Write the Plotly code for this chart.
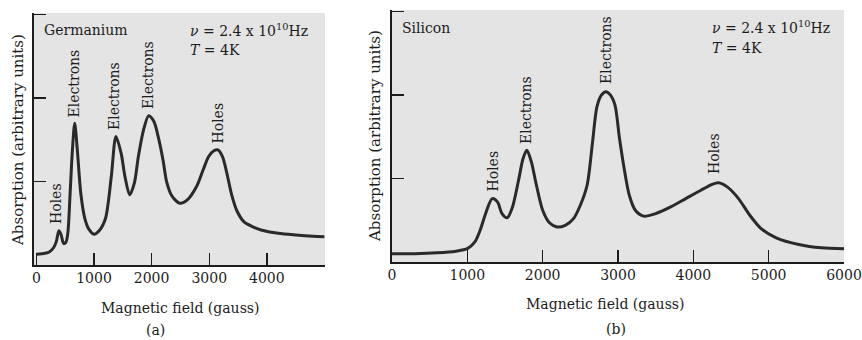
import plotly.graph_objects as go

# ---------------- data ----------------
ge_field = [0, 150, 230, 300, 345, 390, 430, 470, 510, 545, 585, 625, 665, 710, 770,
            840, 910, 1000, 1100, 1200, 1300, 1380, 1470, 1540, 1620, 1700, 1770,
            1860, 1950, 2040, 2120, 2200, 2260, 2350, 2490, 2620, 2780, 2900, 2990,
            3080, 3150, 3230, 3300, 3390, 3480, 3600, 3750, 3900, 4200, 4500, 4800, 5000]
ge_abs = [0.13, 0.14, 0.16, 0.21, 0.28, 0.41, 0.36, 0.26, 0.27, 0.38, 0.86, 1.38, 1.70,
          1.38, 0.86, 0.56, 0.43, 0.37, 0.42, 0.56, 1.06, 1.54, 1.34, 1.05, 0.84, 0.98,
          1.30, 1.62, 1.79, 1.72, 1.52, 1.25, 1.00, 0.83, 0.74, 0.78, 0.94, 1.15, 1.30,
          1.37, 1.38, 1.30, 1.12, 0.84, 0.65, 0.52, 0.46, 0.42, 0.38, 0.36, 0.345, 0.34]

si_field = [0, 300, 600, 850, 1000, 1100, 1170, 1250, 1330, 1400, 1460, 1530, 1600,
            1680, 1740, 1790, 1850, 1910, 2000, 2090, 2190, 2300, 2410, 2500, 2590,
            2660, 2720, 2780, 2840, 2900, 2960, 3020, 3080, 3150, 3230, 3340, 3500,
            3700, 3900, 4100, 4250, 4330, 4450, 4600, 4750, 4900, 5100, 5400, 5700, 6000]
si_abs = [0.10, 0.10, 0.11, 0.13, 0.16, 0.24, 0.38, 0.60, 0.76, 0.72, 0.58, 0.53, 0.66,
          0.98, 1.24, 1.34, 1.20, 0.95, 0.62, 0.47, 0.42, 0.44, 0.52, 0.68, 0.92,
          1.42, 1.86, 2.00, 2.04, 2.00, 1.88, 1.48, 1.13, 0.80, 0.62, 0.55, 0.58,
          0.66, 0.76, 0.86, 0.93, 0.95, 0.90, 0.76, 0.56, 0.40, 0.29, 0.21, 0.17, 0.16]

ge_ticks = [0, 1000, 2000, 3000, 4000, 5000]
ge_ticktext = ["0", "1000", "2000", "3000", "4000", " "]
si_ticks = [0, 1000, 2000, 3000, 4000, 5000, 6000]
si_ticktext = ["0", "1000", "2000", "3000", "4000", "5000", "6000"]
y_ticks = [1, 2, 3]

ge_peaks = ["Holes", "Electrons", "Electrons", "Electrons", "Holes"]
si_peaks = ["Holes", "Electrons", "Electrons", "Holes"]

# ---------------- layout helpers ----------------
W, H = 862, 340
def px(x):
    return x / W
def py(y):
    return 1 - y / H

FONT = "DejaVu Serif"
INK = "#1c1c1c"
LINE = "#2a2a2a"

fig = go.Figure()
fig.add_trace(go.Scatter(x=ge_field, y=ge_abs, mode="lines",
                         line=dict(color=LINE, width=3, shape="spline", smoothing=0.8),
                         xaxis="x", yaxis="y", showlegend=False, hoverinfo="skip"))
fig.add_trace(go.Scatter(x=si_field, y=si_abs, mode="lines",
                         line=dict(color=LINE, width=3, shape="spline", smoothing=0.8),
                         xaxis="x2", yaxis="y2", showlegend=False, hoverinfo="skip"))

axis_common = dict(showgrid=False, zeroline=False, showline=True, linecolor=INK,
                   linewidth=1.6, ticks="inside", ticklen=12, tickwidth=1.4,
                   tickcolor=INK, automargin=False,
                   tickfont=dict(family=FONT, size=14, color=INK))

fig.update_layout(
    width=W, height=H,
    margin=dict(l=0, r=0, t=0, b=0, pad=0),
    paper_bgcolor="white",
    plot_bgcolor="#e4e4e4",
    xaxis=dict(domain=[px(34), px(325)], range=[-42, 5010], anchor="y",
               tickmode="array", tickvals=ge_ticks, ticktext=ge_ticktext, **axis_common),
    yaxis=dict(domain=[py(265), py(13)], range=[0, 3.02], anchor="x",
               tickmode="array", tickvals=y_ticks, showticklabels=False, **axis_common),
    xaxis2=dict(domain=[px(392), px(844)], range=[0, 6000], anchor="y2",
                tickmode="array", tickvals=si_ticks, ticktext=si_ticktext, **axis_common),
    yaxis2=dict(domain=[py(262), py(10)], range=[0, 3.02], anchor="x2",
                tickmode="array", tickvals=y_ticks, showticklabels=False, **axis_common),
)

def ann(text, x, y, size=14, angle=0, xanchor="center", yanchor="middle"):
    fig.add_annotation(text=text, x=px(x), y=py(y), xref="paper", yref="paper",
                       showarrow=False, textangle=angle, xanchor=xanchor, yanchor=yanchor,
                       font=dict(family=FONT, size=size, color=INK))

# axis titles and panel letters
ann("Magnetic field (gauss)", 180, 308)
ann("Magnetic field (gauss)", 605, 304)
ann("Absorption (arbitrary units)", 18, 140, size=15, angle=-90)
ann("Absorption (arbitrary units)", 375, 136, size=15, angle=-90)
ann("(a)", 155, 330)
ann("(b)", 616, 329)

# inner labels
ann("Germanium", 42, 30, xanchor="left")
ann("<i>ν</i> = 2.4 x 10<sup>10</sup>Hz", 188, 30, xanchor="left")
ann("<i>T</i> = 4K", 188, 50, xanchor="left")
ann("Silicon", 400, 28, xanchor="left")
ann("<i>ν</i> = 2.4 x 10<sup>10</sup>Hz", 710, 27, xanchor="left")
ann("<i>T</i> = 4K", 710, 48, xanchor="left")

# peak labels (rotated)
ge_pos = [(56, 204), (73.5, 84), (114, 96), (148, 75), (217, 123.5)]
for t, (x, y) in zip(ge_peaks, ge_pos):
    ann(t, x, y, angle=-90)
si_pos = [(492.5, 171), (526, 110), (606, 50), (714, 154)]
for t, (x, y) in zip(si_peaks, si_pos):
    ann(t, x, y, angle=-90)

fig.write_html(
    "out.html",
    config={"displayModeBar": False, "staticPlot": True},
    post_script="document.body.style.margin='0';document.body.style.overflow='hidden';",
)
